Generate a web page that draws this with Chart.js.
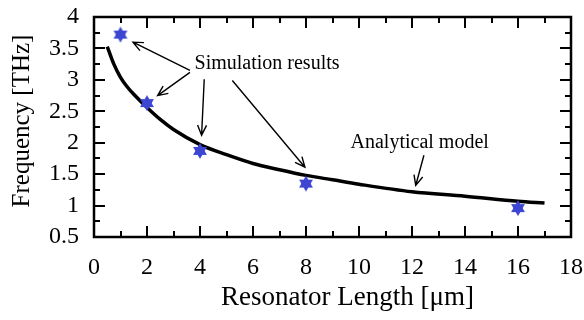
<!DOCTYPE html>
<html><head><meta charset="utf-8">
<script src="https://cdn.jsdelivr.net/npm/chart.js@4/dist/chart.umd.min.js"></script>
<style>html,body{margin:0;padding:0;background:#fff}#wrap{width:584px;height:320px}</style>
</head><body><div id="wrap"><canvas id="c" width="584" height="320"></canvas></div>
<script>
// ---- data ----
const simLength = [1, 2, 4, 8, 16];
const simFreq = [3.72, 2.63, 1.87, 1.35, 0.96];
const modelLength = [0.5, 0.75, 1, 1.25, 1.5, 2, 2.5, 3, 4, 5, 6, 7, 8, 9, 10, 12, 14, 16, 17];
const modelFreq = [3.53, 3.25, 3.04, 2.89, 2.77, 2.56, 2.37, 2.21, 1.97, 1.81, 1.67, 1.57, 1.48, 1.41, 1.34, 1.22, 1.15, 1.07, 1.04];
const xTickValues = [0, 2, 4, 6, 8, 10, 12, 14, 16, 18];
const yTickValues = [0.5, 1, 1.5, 2, 2.5, 3, 3.5, 4];
const xTitle = 'Resonator Length [μm]';
const yTitle = 'Frequency [THz]';
const simLabel = 'Simulation results';
const modelLabel = 'Analytical model';

// annotation anchors (data coordinates)
const simTextAt = [6.53, 3.26];
const simArrows = [
  [[3.62, 3.15], [1.47, 3.60]],
  [[3.62, 3.12], [2.40, 2.75]],
  [[4.16, 3.01], [4.06, 2.12]],
  [[5.22, 2.99], [7.96, 1.61]]
];
const modelTextAt = [12.29, 2.0];
const modelArrow = [[12.45, 1.80], [12.14, 1.32]];

const FONT = '"Liberation Serif", "Times New Roman", serif';
const AREA = { left: 94, right: 571, top: 17, bottom: 237 };

function hexagram(r, color) {
  const s = Math.ceil(2 * r + 2);
  const cv = document.createElement('canvas');
  cv.width = s; cv.height = s;
  const g = cv.getContext('2d');
  const c = s / 2;
  g.fillStyle = color;
  [-90, 90].forEach(a0 => {
    g.beginPath();
    for (let k = 0; k < 3; k++) {
      const a = (a0 + k * 120) * Math.PI / 180;
      const px = c + r * Math.cos(a), py = c + r * Math.sin(a);
      if (k === 0) g.moveTo(px, py); else g.lineTo(px, py);
    }
    g.closePath();
    g.fill();
  });
  return cv;
}
const starImg = hexagram(8, '#3c46d2');

function arrow(ctx, x0, y0, x1, y1) {
  ctx.beginPath();
  ctx.moveTo(x0, y0); ctx.lineTo(x1, y1);
  const a = Math.atan2(y1 - y0, x1 - x0);
  const L = 11, w = 0.42;
  ctx.moveTo(x1 - L * Math.cos(a - w), y1 - L * Math.sin(a - w));
  ctx.lineTo(x1, y1);
  ctx.lineTo(x1 - L * Math.cos(a + w), y1 - L * Math.sin(a + w));
  ctx.stroke();
}

const framePlugin = {
  id: 'frame',
  afterDraw(chart) {
    const { ctx, chartArea: ca, scales: { x, y } } = chart;
    ctx.save();
    ctx.strokeStyle = '#000';
    ctx.lineWidth = 2.5;
    ctx.strokeRect(ca.left, ca.top, ca.right - ca.left, ca.bottom - ca.top);
    ctx.lineWidth = 2;
    ctx.beginPath();
    for (let v = x.min; v <= x.max + 1e-9; v += 1) {
      const px = Math.round(x.getPixelForValue(v));
      const len = (Math.abs(v % 2) < 1e-9) ? 11 : 6;
      ctx.moveTo(px, ca.bottom); ctx.lineTo(px, ca.bottom - len);
      ctx.moveTo(px, ca.top); ctx.lineTo(px, ca.top + len);
    }
    for (let v = y.min; v <= y.max + 1e-9; v += 0.25) {
      const py = Math.round(y.getPixelForValue(v));
      const len = (Math.abs((v * 2) % 1) < 1e-9) ? 11 : 6;
      ctx.moveTo(ca.left, py); ctx.lineTo(ca.left + len, py);
      ctx.moveTo(ca.right, py); ctx.lineTo(ca.right - len, py);
    }
    ctx.stroke();

    // annotations
    ctx.fillStyle = '#000';
    ctx.lineWidth = 1.4;
    ctx.font = '20px ' + FONT;
    ctx.textAlign = 'center';
    ctx.textBaseline = 'middle';
    ctx.fillText(simLabel, x.getPixelForValue(simTextAt[0]), y.getPixelForValue(simTextAt[1]));
    ctx.fillText(modelLabel, x.getPixelForValue(modelTextAt[0]), y.getPixelForValue(modelTextAt[1]));
    simArrows.concat([modelArrow]).forEach(([p0, p1]) => {
      arrow(ctx, x.getPixelForValue(p0[0]), y.getPixelForValue(p0[1]),
                 x.getPixelForValue(p1[0]), y.getPixelForValue(p1[1]));
    });

    // axis titles
    ctx.font = '27px ' + FONT;
    ctx.fillText(xTitle, (ca.left + ca.right) / 2 + 15, 298);
    ctx.font = '25px ' + FONT;
    ctx.save();
    ctx.translate(22, (ca.top + ca.bottom) / 2 - 6);
    ctx.rotate(-Math.PI / 2);
    ctx.fillText(yTitle, 0, 0);
    ctx.restore();
    ctx.restore();
  }
};

new Chart(document.getElementById('c'), {
  type: 'scatter',
  data: {
    datasets: [
      {
        label: modelLabel,
        data: modelLength.map((v, i) => ({ x: v, y: modelFreq[i] })),
        showLine: true,
        borderColor: '#000',
        borderWidth: 3.5,
        pointRadius: 0,
        cubicInterpolationMode: 'monotone',
        order: 2
      },
      {
        label: simLabel,
        data: simLength.map((v, i) => ({ x: v, y: simFreq[i] })),
        showLine: false,
        pointStyle: starImg,
        pointRadius: 8,
        order: 1
      }
    ]
  },
  options: {
    responsive: false,
    devicePixelRatio: 1,
    animation: false,
    layout: { padding: 0 },
    plugins: { legend: { display: false }, tooltip: { enabled: false } },
    scales: {
      x: {
        type: 'linear', min: 0, max: 18,
        afterFit: s => { s.height = 320 - AREA.bottom; s.paddingLeft = 0; s.paddingRight = 0; },
        afterBuildTicks: s => { s.ticks = xTickValues.map(v => ({ value: v })); },
        grid: { display: false, drawTicks: false },
        border: { display: false },
        ticks: { color: '#000', font: { family: FONT, size: 24 }, padding: 16, maxRotation: 0, autoSkip: false,
                 callback: v => String(v) }
      },
      y: {
        type: 'linear', min: 0.5, max: 4,
        afterFit: s => { s.width = AREA.left; s.paddingTop = 0; s.paddingBottom = 0; },
        afterBuildTicks: s => { s.ticks = yTickValues.map(v => ({ value: v })); },
        grid: { display: false, drawTicks: false },
        border: { display: false },
        ticks: { color: '#000', font: { family: FONT, size: 24 }, padding: 15, autoSkip: false,
                 callback: v => String(v) }
      }
    }
  },
  plugins: [{
    id: 'area',
    beforeLayout(chart) {
      chart.options.layout.padding = { top: AREA.top, right: 584 - AREA.right, left: 0, bottom: 0 };
    }
  }, framePlugin]
});
</script>
</body></html>
